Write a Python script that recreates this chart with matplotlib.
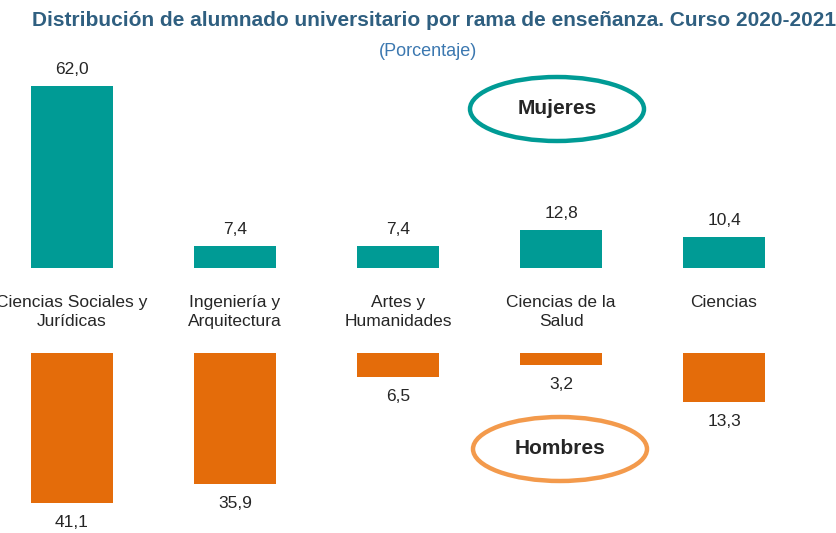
import numpy as np
import matplotlib.pyplot as plt
from matplotlib.patches import Ellipse

plt.rcParams['font.family'] = ['Liberation Sans', 'DejaVu Sans']

ramas = ['Ciencias Sociales y\nJurídicas', 'Ingeniería y\nArquitectura', 'Artes y\nHumanidades',
         'Ciencias de la\nSalud', 'Ciencias']
mujeres = [62.0, 7.4, 7.4, 12.8, 10.4]
hombres = [41.1, 35.9, 6.5, 3.2, 13.3]

teal = '#009b95'
orange = '#e46c0a'
W, H = 836, 533
fs = 12.5

fig = plt.figure(figsize=(W / 100, H / 100), dpi=100)
xl = (-72 / 163, (W - 72) / 163)
x = np.arange(len(ramas))

# mujeres, barras hacia arriba
ax1 = fig.add_axes([0, (H - 268) / H, 1, 208 / H])
ax1.bar(x, mujeres, width=0.497, color=teal)
ax1.set_xlim(*xl)
ax1.set_ylim(0, 208 / 2.94)
for xi, v in zip(x, mujeres):
    ax1.annotate(f'{v:.1f}'.replace('.', ','), (xi, v), xytext=(0, 9), textcoords='offset pixels',
                 ha='center', va='bottom', fontsize=fs, color='#262626', annotation_clip=False)
ax1.axis('off')

# hombres, barras hacia abajo
ax2 = fig.add_axes([0, 0, 1, (H - 353) / H])
ax2.bar(x, hombres, width=0.497, color=orange)
ax2.set_xlim(*xl)
ax2.set_ylim(180 / 3.65, 0)
for xi, v in zip(x, hombres):
    ax2.annotate(f'{v:.1f}'.replace('.', ','), (xi, v), xytext=(0, -12), textcoords='offset pixels',
                 ha='center', va='top', fontsize=fs, color='#262626', annotation_clip=False)
ax2.axis('off')

for xi, r in zip(x, ramas):
    ax1.annotate(r, (xi, H - 295), xycoords=('data', 'figure pixels'), ha='center', va='top',
                 fontsize=fs, color='#262626', linespacing=1.35, annotation_clip=False)

fig.text(434 / W, 1 - 20 / H, 'Distribución de alumnado universitario por rama de enseñanza. Curso 2020-2021',
         ha='center', va='center', fontsize=15, fontweight='bold', color='#2f5f80')
fig.text(428 / W, 1 - 51 / H, '(Porcentaje)', ha='center', va='center', fontsize=13, color='#3c78b0')

for cx, cy, lab, col in [(557, 109, 'Mujeres', teal), (560, 449, 'Hombres', '#f39a4c')]:
    fig.patches.append(Ellipse((cx / W, 1 - cy / H), 174 / W, 64 / H, transform=fig.transFigure,
                               facecolor='white', edgecolor=col, linewidth=3.2, zorder=5))
    fig.text(cx / W, 1 - cy / H, lab, ha='center', va='center', fontsize=15, fontweight='bold',
             color='#262626', zorder=6)

fig.savefig('out.png', dpi=100)
